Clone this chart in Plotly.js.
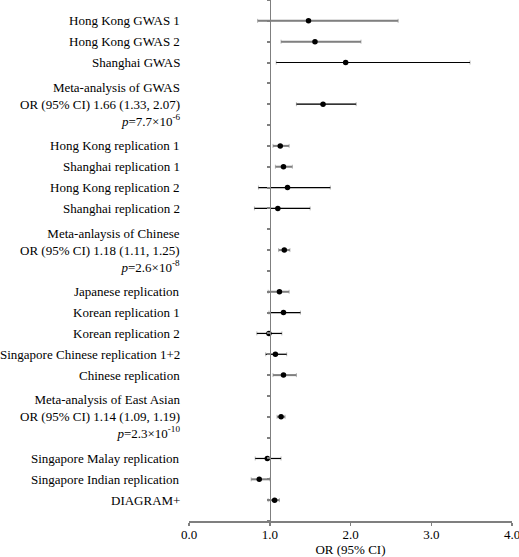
<!DOCTYPE html>
<html>
<head>
<meta charset="utf-8">
<script src="https://cdn.plot.ly/plotly-3.0.1.min.js"></script>
<style>html,body{margin:0;padding:0;background:#fff;}#chart{width:519px;height:557px;}</style>
</head>
<body>
<div id="chart"></div>
<script>
// Study labels (top to bottom)
const labels = [
  "Hong Kong GWAS 1",
  "Hong Kong GWAS 2",
  "Shanghai GWAS",
  "Meta-analysis of GWAS<br>OR (95% CI) 1.66 (1.33, 2.07)<br><i>p</i>=7.7×10<sup>-6</sup>",
  "Hong Kong replication 1",
  "Shanghai replication 1",
  "Hong Kong replication 2",
  "Shanghai replication 2",
  "Meta-anlaysis of Chinese<br>OR (95% CI) 1.18 (1.11, 1.25)<br><i>p</i>=2.6×10<sup>-8</sup>",
  "Japanese replication",
  "Korean replication 1",
  "Korean replication 2",
  "Singapore Chinese replication 1+2",
  "Chinese replication",
  "Meta-analysis of East Asian<br>OR (95% CI) 1.14 (1.09, 1.19)<br><i>p</i>=2.3×10<sup>-10</sup>",
  "Singapore Malay replication",
  "Singapore Indian replication",
  "DIAGRAM+"
];
// Row position of each study on the numeric y axis (0..25)
const rows = [24, 23, 22, 20, 18, 17, 16, 15, 13, 11, 10, 9, 8, 7, 5, 3, 2, 1];
// Odds ratios and 95% CI
const orVals = [1.48, 1.56, 1.94, 1.66, 1.13, 1.17, 1.22, 1.10, 1.18, 1.12, 1.17, 0.99, 1.07, 1.17, 1.14, 0.97, 0.87, 1.06];
const ciLow  = [0.85, 1.14, 1.08, 1.33, 1.04, 1.07, 0.86, 0.81, 1.11, 0.98, 0.99, 0.84, 0.95, 1.04, 1.09, 0.82, 0.77, 0.98];
const ciHigh = [2.59, 2.13, 3.48, 2.07, 1.24, 1.28, 1.75, 1.50, 1.25, 1.24, 1.38, 1.15, 1.21, 1.33, 1.19, 1.14, 1.00, 1.12];
// CI line style group: "g" = grey thick, "k" = black thin
const group  = ["g","g","k","k","g","g","k","k","g","g","k","k","k","g","g","k","g","g"];
const xTicks = [0, 1, 2, 3, 4];

const FONT = "Liberation Serif, Times New Roman, serif";

function subset(g) {
  const idx = group.map((v, i) => v === g ? i : -1).filter(i => i >= 0);
  return {
    x: idx.map(i => orVals[i]),
    y: idx.map(i => rows[i]),
    plus: idx.map(i => ciHigh[i] - orVals[i]),
    minus: idx.map(i => orVals[i] - ciLow[i])
  };
}

const traces = [];
// caps (light grey) for all
traces.push({
  type: "scatter", mode: "markers", x: orVals, y: rows,
  marker: {size: 0.1, color: "rgba(0,0,0,0)"},
  error_x: {type: "data", symmetric: false,
            array: ciHigh.map((h, i) => h - orVals[i]),
            arrayminus: ciLow.map((l, i) => orVals[i] - l),
            color: "#b8b8b8", thickness: 1, width: 2},
  hoverinfo: "skip", showlegend: false
});
const gs = subset("g");
traces.push({
  type: "scatter", mode: "markers", x: gs.x, y: gs.y,
  marker: {size: 0.1, color: "rgba(0,0,0,0)"},
  error_x: {type: "data", symmetric: false, array: gs.plus, arrayminus: gs.minus,
            color: "#808080", thickness: 2, width: 0},
  hoverinfo: "skip", showlegend: false
});
const ks = subset("k");
traces.push({
  type: "scatter", mode: "markers", x: ks.x, y: ks.y,
  marker: {size: 0.1, color: "rgba(0,0,0,0)"},
  error_x: {type: "data", symmetric: false, array: ks.plus, arrayminus: ks.minus,
            color: "#000000", thickness: 1.2, width: 0},
  hoverinfo: "skip", showlegend: false
});
traces.push({
  type: "scatter", mode: "markers", x: orVals, y: rows,
  marker: {size: 5.5, color: "#000000", symbol: "circle"},
  showlegend: false
});

const annotations = labels.map((t, i) => ({
  text: t, xref: "paper", x: 0, yref: "y", y: rows[i],
  xanchor: "right", yanchor: "middle", xshift: -7, align: "right",
  showarrow: false, font: {family: FONT, size: 13, color: "#000"}
}));

const layout = {
  width: 519, height: 557,
  margin: {l: 189, r: 7, t: 0, b: 36, pad: 0},
  paper_bgcolor: "#fff", plot_bgcolor: "#fff",
  showlegend: false,
  font: {family: FONT, size: 13, color: "#000"},
  xaxis: {
    range: [0, 4], tickvals: xTicks, tickformat: ".1f",
    showgrid: false, zeroline: false,
    showline: true, linecolor: "#7f7f7f", linewidth: 2,
    ticks: "outside", ticklen: 3, tickcolor: "#7f7f7f", tickwidth: 1.5,
    ticklabeloverflow: "allow", ticklabelstandoff: -3,
    tickfont: {family: FONT, size: 13, color: "#000"},
    title: {text: "OR (95% CI)", font: {family: FONT, size: 13, color: "#000"}},
    fixedrange: true
  },
  yaxis: {
    range: [0, 25], dtick: 1, tick0: 0,
    anchor: "free", position: 0.25,
    showgrid: false, zeroline: false, showticklabels: false,
    showline: true, linecolor: "#7f7f7f", linewidth: 1.5,
    ticks: "outside", ticklen: 3, tickcolor: "#7f7f7f", tickwidth: 2,
    fixedrange: true
  },
  annotations: annotations
};

Plotly.newPlot("chart", traces, layout, {staticPlot: true, displayModeBar: false});
</script>
</body>
</html>
